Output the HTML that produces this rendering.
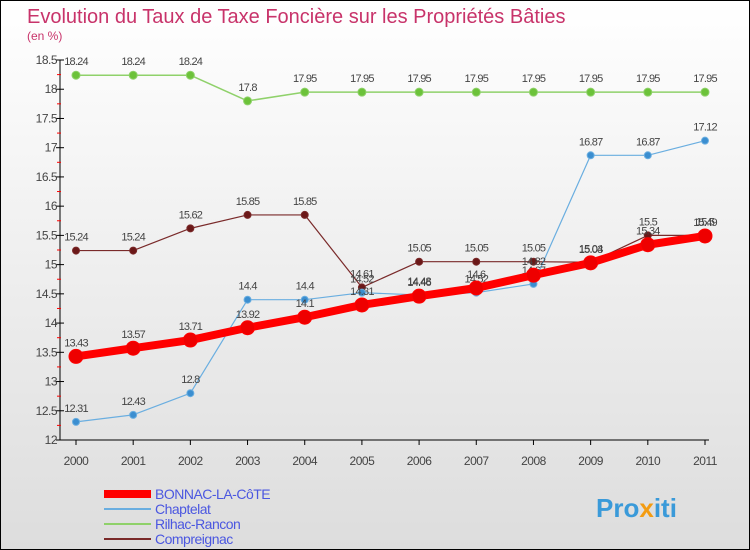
<!DOCTYPE html>
<html><head><meta charset="utf-8"><style>
body{margin:0}
#w{width:748px;height:548px;border:1px solid #000;background:linear-gradient(#fff,#ddd);position:relative;font-family:"Liberation Sans",sans-serif;overflow:hidden}
</style></head><body>
<div id="w">
<svg id="s" width="748" height="548" style="position:absolute;left:0;top:0">
<text x="26" y="22" font-size="20" fill="#c8336a">Evolution du Taux de Taxe Foncière sur les Propriétés Bâties</text>
<text x="26" y="39" font-size="12" fill="#c8336a">(en %)</text>
<g id="g"></g>
<text x="595" y="516" font-size="26" font-weight="bold" fill="#3a9ad9">Pro<tspan fill="#f39c12">x</tspan>iti</text>
</svg>
</div>
<script>
const years=[2000,2001,2002,2003,2004,2005,2006,2007,2008,2009,2010,2011];
const yTicks=[12,12.5,13,13.5,14,14.5,15,15.5,16,16.5,17,17.5,18,18.5];
const bonnac=[13.43,13.57,13.71,13.92,14.1,14.31,14.46,14.6,14.82,15.03,15.34,15.49];
const chaptelat=[12.31,12.43,12.8,14.4,14.4,14.52,14.48,14.52,14.67,16.87,16.87,17.12];
const rilhac=[18.24,18.24,18.24,17.8,17.95,17.95,17.95,17.95,17.95,17.95,17.95,17.95];
const compreignac=[15.24,15.24,15.62,15.85,15.85,14.61,15.05,15.05,15.05,15.04,15.5,15.5];
const names=["BONNAC-LA-CôTE","Chaptelat","Rilhac-Rancon","Compreignac"];
const X=i=>75+i*(704-75)/11;
const Y=v=>439-(v-12)*(380/6.5);
const g=document.getElementById('g');const NS='http://www.w3.org/2000/svg';
function el(t,a,p){const e=document.createElementNS(NS,t);for(const k in a)e.setAttribute(k,a[k]);(p||g).appendChild(e);return e;}
let ax=el('line',{x1:59,y1:Y(18.5),x2:59,y2:439,stroke:'#000'});


let bx=el('line',{x1:59,y1:439,x2:708,y2:439,stroke:'#000'});


yTicks.forEach((v,i)=>{
 el('line',{x1:55,y1:Y(v),x2:63,y2:Y(v),stroke:'#000'});
 if(i<yTicks.length-1)el('line',{x1:56,y1:Y(v+0.25),x2:60,y2:Y(v+0.25),stroke:'red'});
 const t=el('text',{x:56,y:Y(v)+4,'font-size':12,fill:'#444','text-anchor':'end','letter-spacing':'-0.5'});t.textContent=String(v);
 
 
});
years.forEach((yr,i)=>{
 el('line',{x1:X(i),y1:439,x2:X(i),y2:444,stroke:'#000'});
 const t=el('text',{x:X(i),y:464,'font-size':12,fill:'#444','text-anchor':'middle','letter-spacing':'-0.5'});t.textContent=yr;
 
 
});
function series(d,col,w,r,dot,name){
 const p=el('polyline',{points:d.map((v,i)=>X(i)+','+Y(v)).join(' '),fill:'none',stroke:col,'stroke-width':w,'stroke-linejoin':'round'});
 
 
 d.forEach((v,i)=>{
  const c=el('circle',{cx:X(i),cy:Y(v),r:r,fill:dot,stroke:col,'stroke-width':1});
  
  
  const t=el('text',{x:X(i),y:Y(v)-10,'font-size':11,fill:'#444','text-anchor':'middle','letter-spacing':'-0.8'});t.textContent=String(v);
  
  
 });
}
series(rilhac,'#8fd16a',1.5,4,'#6cc23a','rilhac');
series(compreignac,'#7a2a2a',1.2,3.5,'#6b1818','compreignac');
series(chaptelat,'#6aaee0',1.2,3.5,'#3b8ed0','chaptelat');
series(bonnac,'#ff0000',8,7,'#ee0000','bonnac');
const lc=['#ff0000','#6aaee0','#8fd16a','#7a2a2a'],lw=[8,2,2,2];
names.forEach((n,i)=>{
 const y=493+i*15;
 const l=el('line',{x1:103,y1:y,x2:150,y2:y,stroke:lc[i],'stroke-width':lw[i]});
 
 
 const t=el('text',{x:154,y:y+5,'font-size':14,fill:'#4b57e0','letter-spacing':'-0.5'});t.textContent=n;
 
 
});
</script>
</body></html>
